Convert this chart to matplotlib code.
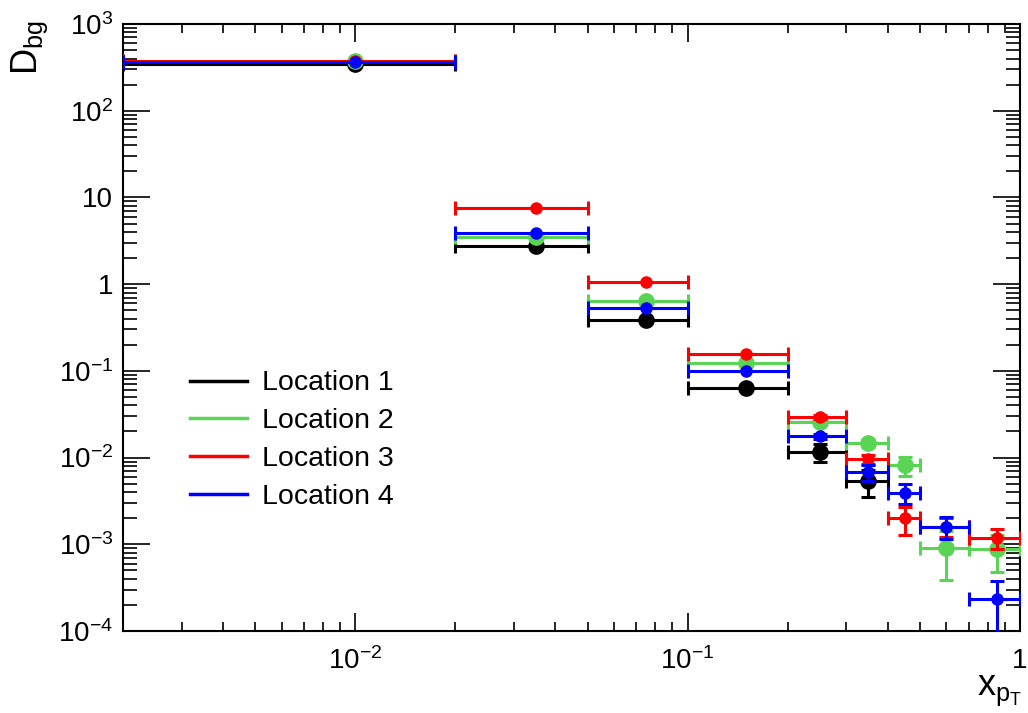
import matplotlib
matplotlib.use('Agg')
import matplotlib.pyplot as plt
from matplotlib.lines import Line2D
from matplotlib.ticker import FixedLocator, LogLocator, NullFormatter
import numpy as np

plt.rcParams['font.family'] = ['Liberation Sans', 'DejaVu Sans']
plt.rcParams['mathtext.fontset'] = 'custom'
plt.rcParams['mathtext.rm'] = 'Liberation Sans'
plt.rcParams['mathtext.it'] = 'Liberation Sans'

# bins in x_pT
bin_lo = [0.002, 0.02, 0.05, 0.1, 0.2, 0.3, 0.4, 0.5, 0.7]
bin_hi = [0.02, 0.05, 0.1, 0.2, 0.3, 0.4, 0.5, 0.7, 1.0]
bin_c = [0.01, 0.035, 0.075, 0.15, 0.25, 0.35, 0.45, 0.6, 0.85]

labels = ['Location 1', 'Location 2', 'Location 3', 'Location 4']
colors = ['black', '#59d454', '#ff0000', '#0000ff']
msizes = [11, 11, 8, 8]

# black stops at 0.35
loc1_y = [345, 2.77, 0.389, 0.0634, 0.0116, 0.00532]
loc1_err = [0, 0, 0, 0, 0.0026, 0.0018]
loc2_y = [378, 3.47, 0.64, 0.123, 0.0255, 0.0146, 0.00813, 0.0009, 0.00088]
loc2_err = [0, 0, 0, 0, 0.002, 0.0015, 0.002, 0.00051, 0.0004]
loc3_y = [374, 7.6, 1.07, 0.158, 0.0291, 0.00955, 0.00199, 0.0016, 0.00119]
loc3_err = [0, 0, 0, 0, 0.0015, 0.0012, 0.0007, 0.0004, 0.0003]
loc4_y = [361, 3.86, 0.535, 0.0995, 0.0176, 0.00681, 0.0039, 0.0016, 0.000234]
loc4_err = [0, 0, 0, 0, 0.0012, 0.0014, 0.001, 0.00044, 0.00014]

ytick_vals = [1e-4, 1e-3, 1e-2, 1e-1, 1, 10, 1e2, 1e3]
ytick_labels = ['$10^{-4}$', '$10^{-3}$', '$10^{-2}$', '$10^{-1}$', '1', '10', '$10^{2}$', '$10^{3}$']
xtick_vals = [0.01, 0.1, 1]
xtick_labels = ['$10^{-2}$', '$10^{-1}$', '1']

fig = plt.figure(figsize=(10.28, 7.13), dpi=100)
ax = fig.add_axes([123/1028, 1-631/713, 897/1028, 607/713])
ax.set_xscale('log')
ax.set_yscale('log')

all_y = [loc1_y, loc2_y, loc3_y, loc4_y]
all_e = [loc1_err, loc2_err, loc3_err, loc4_err]
for i in range(4):
    n = len(all_y[i])
    x = np.array(bin_c[:n])
    xlo = x - np.array(bin_lo[:n])
    xhi = np.array(bin_hi[:n]) - x
    ax.errorbar(x, all_y[i], xerr=[xlo, xhi], yerr=all_e[i], fmt='o',
                color=colors[i], ms=msizes[i], elinewidth=2.2, capsize=5,
                capthick=2.2, zorder=2 + i)

ax.set_xlim(0.002, 1)
ax.set_ylim(1e-4, 1e3)

ax.yaxis.set_major_locator(FixedLocator(ytick_vals))
ax.set_yticklabels(ytick_labels)
ax.yaxis.set_minor_locator(LogLocator(base=10, subs=np.arange(2, 10), numticks=20))
ax.yaxis.set_minor_formatter(NullFormatter())
ax.xaxis.set_major_locator(FixedLocator(xtick_vals))
ax.set_xticklabels(xtick_labels)
ax.xaxis.set_minor_locator(LogLocator(base=10, subs=np.arange(2, 10), numticks=20))
ax.xaxis.set_minor_formatter(NullFormatter())

ax.tick_params(which='both', direction='in', top=True, right=True, width=1.2, labelsize=20)
ax.tick_params(axis='x', which='major', length=13, pad=12)
ax.tick_params(axis='x', which='minor', length=6.5)
ax.tick_params(axis='y', which='major', length=19.5, pad=7)
ax.tick_params(axis='y', which='minor', length=10)
for sp in ax.spines.values():
    sp.set_linewidth(1.5)

handles = [Line2D([0], [0], color=c, lw=2.5) for c in colors]
ax.legend(handles, labels, loc='upper left', bbox_to_anchor=(0.053, 0.462),
          frameon=False, fontsize=20.5, handlelength=2.0, handletextpad=0.5,
          labelspacing=0.42, borderpad=0.2)

fig.text(10/1028, 1-20/713, r'$\mathregular{D_{bg}}$', rotation=90, ha='left', va='top', fontsize=26)
fig.text(1022/1028, 1-673/713, r'$\mathregular{x_{p_{T}}}$', ha='right', va='top', fontsize=26)

fig.savefig('out.png', dpi=100)
